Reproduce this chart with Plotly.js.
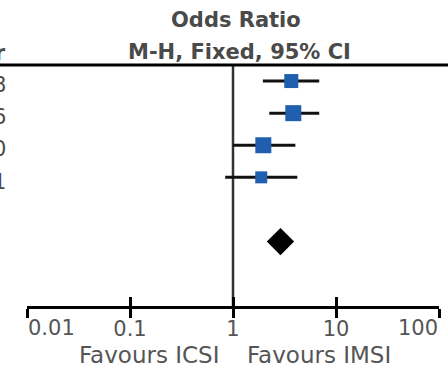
<!DOCTYPE html>
<html>
<head>
<meta charset="utf-8">
<script src="https://cdn.plot.ly/plotly-3.0.1.min.js"></script>
<style>html,body{margin:0;padding:0;background:#fff;}#chart{width:448px;height:367px;}</style>
</head>
<body>
<div id="chart"></div>
<script>
// ---- data ----
const studyYears = ["2008", "2016", "2010", "2011"];
const studyRows = [1, 2, 3, 4];
const orEstimate = [3.68, 3.85, 1.97, 1.88];
const ciLower = [1.95, 2.25, 1.0, 0.84];
const ciUpper = [6.87, 6.87, 4.03, 4.21];
const pooledRow = [6];
const pooledEstimate = [2.89];
const tickValues = [0.01, 0.1, 1, 10, 100];
const tickLabels = ["0.01", "0.1", "1", "10", "100"];

// ---- layout constants ----
const W = 448, H = 367;
const ML = 27, MR = 9, MT = 65, MB = 61;
const plotW = W - ML - MR, plotH = H - MT - MB;
const rowPx = 32.1;
const px2paperX = px => (px - ML) / plotW;
const px2paperY = py => (H - MB - py) / plotH;

const textGray = '#4a4a4a';
const tickFont = {family: 'DejaVu Sans', size: 21, color: '#555'};

const studies = {
  type: 'scatter', mode: 'markers',
  x: orEstimate, y: studyRows,
  marker: {symbol: 'square', color: '#1f5fae', size: [14, 16, 16, 12], opacity: 1, line: {width: 0}},
  error_x: {
    type: 'data', symmetric: false,
    array: orEstimate.map((v, i) => ciUpper[i] - v),
    arrayminus: orEstimate.map((v, i) => v - ciLower[i]),
    color: '#111', thickness: 3, width: 0
  },
  hoverinfo: 'x', showlegend: false
};

const pooled = {
  type: 'scatter', mode: 'markers',
  x: pooledEstimate, y: pooledRow,
  marker: {symbol: 'diamond', color: '#000', size: 21, opacity: 1, line: {width: 0}},
  showlegend: false
};

const tickOverlay = {
  type: 'scatter', mode: 'markers', x: [1], y: [0], xaxis: 'x2',
  marker: {opacity: 0}, showlegend: false, hoverinfo: 'skip'
};

const yBottom = 0.5 + plotH / rowPx;

// inner tick labels drawn by the axis; the two end labels are aligned to the plot edges
const axisTickText = tickLabels.map((t, i) => (i === 0 || i === tickLabels.length - 1) ? '' : t);

const annotations = [
  {text: '<b>Odds Ratio</b>', xref: 'paper', yref: 'paper', x: px2paperX(236), y: px2paperY(20),
   xanchor: 'center', yanchor: 'middle', showarrow: false,
   font: {family: 'DejaVu Sans', size: 21, color: textGray}},
  {text: '<b>M-H, Fixed, 95% CI</b>', xref: 'paper', yref: 'paper', x: px2paperX(239), y: px2paperY(52),
   xanchor: 'center', yanchor: 'middle', showarrow: false,
   font: {family: 'DejaVu Sans', size: 21, color: textGray}},
  {text: '<b>Year</b>', xref: 'paper', yref: 'paper', x: px2paperX(8), y: px2paperY(53),
   xanchor: 'right', yanchor: 'middle', showarrow: false,
   font: {family: 'DejaVu Sans', size: 21, color: textGray}},
  {text: 'Favours ICSI', xref: 'paper', yref: 'paper', x: px2paperX(221), y: px2paperY(355),
   xanchor: 'right', yanchor: 'middle', showarrow: false,
   font: {family: 'DejaVu Sans', size: 23, color: '#555'}},
  {text: 'Favours IMSI', xref: 'paper', yref: 'paper', x: px2paperX(245), y: px2paperY(355),
   xanchor: 'left', yanchor: 'middle', showarrow: false,
   font: {family: 'DejaVu Sans', size: 23, color: '#555'}},
  {text: tickLabels[0], xref: 'x', yref: 'paper', x: Math.log10(tickValues[0]), y: px2paperY(328),
   xanchor: 'left', yanchor: 'middle', xshift: -1, showarrow: false, font: tickFont},
  {text: tickLabels[tickLabels.length - 1], xref: 'x', yref: 'paper',
   x: Math.log10(tickValues[tickValues.length - 1]), y: px2paperY(328),
   xanchor: 'right', yanchor: 'middle', xshift: 1, showarrow: false, font: tickFont}
];
studyYears.forEach((yr, i) => {
  annotations.push({
    text: yr, xref: 'paper', yref: 'y', x: px2paperX(8), y: studyRows[i] + 0.13,
    xanchor: 'right', yanchor: 'middle', showarrow: false,
    font: {family: 'DejaVu Sans', size: 21, color: textGray}
  });
});

const layout = {
  width: W, height: H,
  margin: {l: ML, r: MR, t: MT, b: MB, pad: 0},
  paper_bgcolor: '#fff', plot_bgcolor: '#fff',
  showlegend: false,
  xaxis: {
    type: 'log', range: [-2, 2], fixedrange: true,
    showgrid: false, zeroline: false,
    showline: true, linecolor: '#000', linewidth: 3,
    ticks: 'outside', ticklen: 9, tickwidth: 3, tickcolor: '#000',
    tickvals: tickValues, ticktext: axisTickText,
    tickfont: tickFont,
    ticklabelstandoff: -7
  },
  xaxis2: {
    type: 'log', range: [-2, 2], overlaying: 'x', anchor: 'y', side: 'bottom',
    showgrid: false, zeroline: false, showline: false,
    ticks: 'inside', ticklen: 9, tickwidth: 3, tickcolor: '#000',
    tickvals: tickValues, showticklabels: false
  },
  yaxis: {
    range: [yBottom, 0.5], showgrid: false, zeroline: false, showline: false,
    showticklabels: false, ticks: '', fixedrange: true
  },
  shapes: [
    {type: 'line', xref: 'x', yref: 'paper', x0: 1, x1: 1, y0: 0, y1: 1,
     line: {color: '#333', width: 2.5}, layer: 'below'},
    {type: 'line', xref: 'paper', yref: 'paper', x0: px2paperX(0), x1: px2paperX(W), y0: 1, y1: 1,
     line: {color: '#000', width: 3}}
  ],
  annotations: annotations
};

Plotly.newPlot('chart', [tickOverlay, studies, pooled], layout, {displayModeBar: false, staticPlot: true});
</script>
</body>
</html>
